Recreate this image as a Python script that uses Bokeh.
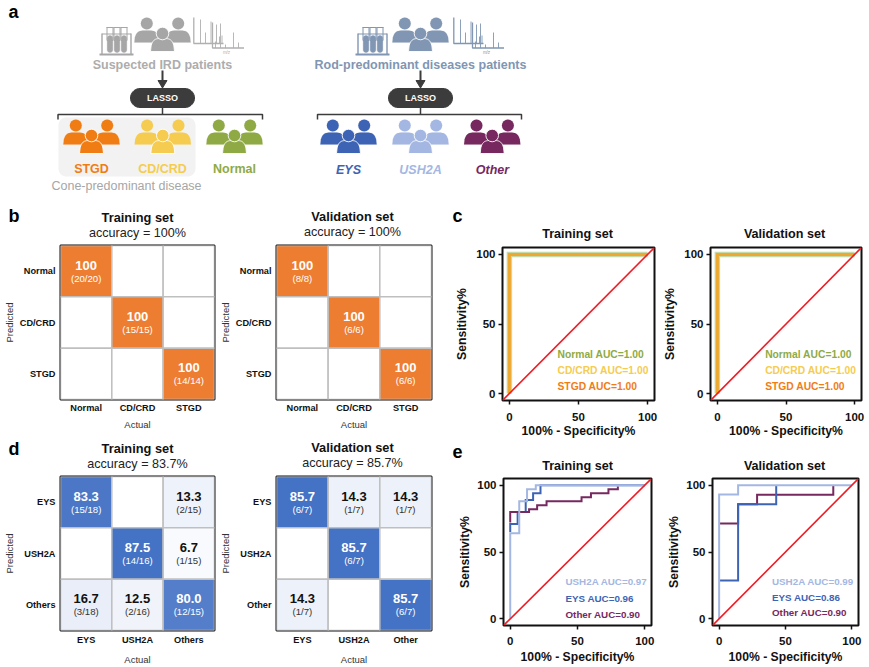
import numpy as np
from bokeh.core.properties import value
from bokeh.embed import file_html
from bokeh.layouts import column, row
from bokeh.models import ColumnDataSource, FactorRange, FixedTicker, Label, Range1d
from bokeh.plotting import figure
from bokeh.resources import INLINE

FONT = "Liberation Sans"

# ---------- data ----------
b_cats = ["Normal", "CD/CRD", "STGD"]
b_train_vals = [[100, 0, 0], [0, 100, 0], [0, 0, 100]]
b_train_frac = [["(20/20)", "", ""], ["", "(15/15)", ""], ["", "", "(14/14)"]]
b_valid_vals = [[100, 0, 0], [0, 100, 0], [0, 0, 100]]
b_valid_frac = [["(8/8)", "", ""], ["", "(6/6)", ""], ["", "", "(6/6)"]]

d_train_cats = ["EYS", "USH2A", "Others"]
d_valid_cats = ["EYS", "USH2A", "Other"]
d_train_vals = [[83.3, 0, 13.3], [0, 87.5, 6.7], [16.7, 12.5, 80.0]]
d_train_frac = [["(15/18)", "", "(2/15)"], ["", "(14/16)", "(1/15)"], ["(3/18)", "(2/16)", "(12/15)"]]
d_valid_vals = [[85.7, 14.3, 14.3], [0, 85.7, 0], [14.3, 0, 85.7]]
d_valid_frac = [["(6/7)", "(1/7)", "(1/7)"], ["", "(6/7)", ""], ["(1/7)", "", "(6/7)"]]

roc_perfect_x = [0, 0, 100]
roc_perfect_y = [0, 100, 100]
diag = [-5, 105]

e_tr_ush_x = [0, 0, 6.7, 6.7, 12.5, 12.5, 19, 19, 100]
e_tr_ush_y = [0, 64, 64, 88, 88, 97, 97, 100, 100]
e_tr_eys_x = [0, 0, 5.5, 5.5, 11.5, 11.5, 17, 17, 22.5, 22.5, 100]
e_tr_eys_y = [65, 71, 71, 80, 80, 89, 89, 94, 94, 100, 100]
e_tr_oth_x = [0, 0, 14, 14, 20, 20, 27, 27, 53, 53, 60, 60, 73, 73, 80, 80]
e_tr_oth_y = [72, 80, 80, 82, 82, 85, 85, 88, 88, 91, 91, 94, 94, 97, 97, 99]

e_va_ush_x = [0, 0, 14.3, 14.3, 100]
e_va_ush_y = [0, 93, 93, 100, 100]
e_va_eys_x = [0, 14.3, 14.3, 43, 43]
e_va_eys_y = [28.6, 28.6, 85.7, 85.7, 100]
e_va_oth_x = [0, 14.3, 14.3, 28.6, 28.6, 86, 86]
e_va_oth_y = [71.4, 71.4, 85.7, 85.7, 92.9, 92.9, 100]

C_ORANGE, C_YELLOW, C_GREEN = "#F07D14", "#F5CC50", "#8FAA45"
C_BLUE, C_LBLUE, C_PURPLE = "#3D64B4", "#A4B7E2", "#76285F"
C_GRAY, C_SLATE, C_DARK = "#A6A6A6", "#8096B3", "#3C3C3C"


# ---------- helpers ----------
def add_label(p, px, py, text, size, color="#111111", style="normal", align="center"):
    p.add_layout(Label(x=px, y=py, text=text, text_font=FONT, text_font_size=f"{size}px",
                       text_color=color, text_font_style=style, text_align=align,
                       text_baseline="middle"))


def canvas(x0, x1, y0, y1):
    """A frame-only figure whose data units are page pixels, for texts and the schematic."""
    p = figure(width=x1 - x0, height=y1 - y0, x_range=Range1d(x0, x1), y_range=Range1d(y1, y0),
               output_backend="svg", toolbar_location=None, x_axis_type=None, y_axis_type=None,
               min_border=0, outline_line_color=None)
    p.grid.visible = False
    return p


def mix(hexcol, t):
    c = np.array([int(hexcol[i:i + 2], 16) for i in (1, 3, 5)])
    t = min(t, 1.0) ** 1.3
    out = 255 + (c - 255) * t
    return "#%02x%02x%02x" % tuple(int(round(v)) for v in out)


def heatmap(cats, vals, fracs, base, vmax, fx0, fx1, fy0, fy1, px0, px1, py0, py1,
            stand_y, tick_stand, stand_x):
    rows = cats[::-1]
    p = figure(width=px1 - px0, height=py1 - py0, x_range=FactorRange(factors=list(cats)),
               y_range=FactorRange(factors=list(rows)), output_backend="svg", toolbar_location=None,
               min_border_left=fx0 - px0, min_border_right=px1 - fx1,
               min_border_top=fy0 - py0, min_border_bottom=py1 - fy1)
    xs, ys, cols, txt, frc, tcol, fcol = [], [], [], [], [], [], []
    for i, rn in enumerate(cats):
        for j, cn in enumerate(cats):
            v = vals[i][j]
            xs.append(cn)
            ys.append(rn)
            cols.append(mix(base, v / vmax) if v else "#ffffff")
            txt.append((f"{v:g}" if v == 100 else f"{v:.1f}") if v else "")
            frc.append(fracs[i][j])
            tcol.append("#ffffff" if v > 50 else "#111111")
            fcol.append("#ffffff" if v > 50 else "#333333")
    src = ColumnDataSource(dict(x=xs, y=ys, c=cols, t=txt, f=frc, tc=tcol, fc=fcol))
    p.rect("x", "y", width=1, height=1, source=src, fill_color="c",
           line_color="#BFBFBF", line_width=1.5)
    p.text("x", "y", text="t", source=src, text_color="tc", text_font=value(FONT),
           text_font_style="bold", text_font_size="13px", text_align="center",
           text_baseline="middle", y_offset=-6)
    p.text("x", "y", text="f", source=src, text_color="fc", text_font=value(FONT),
           text_font_size="9.6px", text_align="center", text_baseline="middle", y_offset=7)
    p.grid.visible = False
    p.outline_line_color = "#111111"
    p.outline_line_alpha = 1
    p.outline_line_width = 2
    for ax in p.axis:
        ax.axis_line_color = None
        ax.major_tick_line_color = None
        ax.major_tick_in = 0
        ax.major_tick_out = 0
        ax.minor_tick_line_color = None
        ax.minor_tick_in = 0
        ax.minor_tick_out = 0
        ax.major_label_text_font = FONT
        ax.major_label_text_font_style = "bold"
        ax.major_label_text_font_size = "9.2px"
        ax.major_label_text_color = "#111111"
        ax.axis_label_text_font = FONT
        ax.axis_label_text_font_style = "normal"
        ax.axis_label_text_font_size = "9.5px"
        ax.axis_label_text_color = "#333333"
    p.xaxis.major_label_standoff = tick_stand
    p.yaxis.major_label_standoff = 5
    p.xaxis.axis_label = "Actual"
    p.xaxis.axis_label_standoff = stand_x
    p.yaxis.axis_label = "Predicted"
    p.yaxis.axis_label_standoff = stand_y
    return p


def roc(series, labels, fx0, fx1, fy0, fy1, px0, px1, py0, py1, lab_x, lab_ys,
        lab_size, stand_y, tick_stand, stand_x):
    p = figure(width=px1 - px0, height=py1 - py0, x_range=Range1d(-5, 105), y_range=Range1d(-5, 105),
               output_backend="svg", toolbar_location=None,
               min_border_left=fx0 - px0, min_border_right=px1 - fx1,
               min_border_top=fy0 - py0, min_border_bottom=py1 - fy1)
    for xs, ys, col, lw, alpha in series:
        p.line(xs, ys, line_color=col, line_width=lw, line_alpha=alpha, line_join="miter")
    p.line(diag, diag, line_color="#EE1C25", line_width=1.6)
    p.grid.visible = False
    p.outline_line_color = "#111111"
    p.outline_line_alpha = 1
    p.outline_line_width = 2
    for ax in p.axis:
        ax.ticker = FixedTicker(ticks=[0, 50, 100])
        ax.axis_line_color = None
        ax.major_tick_line_color = "#111111"
        ax.major_tick_line_width = 1.5
        ax.major_tick_in = 0
        ax.major_tick_out = 4
        ax.minor_tick_line_color = None
        ax.minor_tick_in = 0
        ax.minor_tick_out = 0
        ax.major_label_text_font = FONT
        ax.major_label_text_font_style = "bold"
        ax.major_label_text_font_size = "11.5px"
        ax.major_label_text_color = "#111111"
        ax.major_label_standoff = 3
        ax.axis_label_text_font = FONT
        ax.axis_label_text_font_style = "bold"
        ax.axis_label_text_font_size = "12.2px"
        ax.axis_label_text_color = "#111111"
    p.xaxis.major_label_standoff = tick_stand
    p.xaxis.axis_label = "100% - Specificity%"
    p.xaxis.axis_label_standoff = stand_x
    p.yaxis.axis_label = "Sensitivity%"
    p.yaxis.axis_label_standoff = stand_y
    y_span = fy1 - fy0
    x_span = fx1 - fx0
    for (text, col), y in zip(labels, lab_ys):
        # lab_x, lab_ys are page pixels; convert them through the 110-unit axis range
        add_label(p, -5 + (lab_x - fx0) / x_span * 110, 105 - (y - fy0) / y_span * 110,
                  text, lab_size, color=col, style="bold", align="left")
    return p


# ---------- panel a and the titles of row 1 (page-pixel canvas) ----------
pa = canvas(0, 869, 0, 243)


def round_rect(x0, y0, x1, y1, r):
    t = np.linspace(0, np.pi / 2, 10)
    xs = np.r_[x1 - r + r * np.sin(t), x1 - r + r * np.cos(t), x0 + r - r * np.sin(t), x0 + r - r * np.cos(t)]
    ys = np.r_[y0 + r - r * np.cos(t), y1 - r + r * np.sin(t), y1 - r + r * np.cos(t), y0 + r - r * np.sin(t)]
    return xs, ys


def person(cx, cy, bw, bottom, height, radius, col, halo):
    t = np.linspace(-1, 1, 41)
    xs = cx + t * bw / 2
    ys = bottom - height * (1 - np.abs(t) ** 4.0) ** 0.5
    edge = "#ffffff" if halo else col
    width = 0.9 if halo else 0.1
    pa.patch(np.r_[xs, xs[-1], xs[0]], np.r_[ys, bottom, bottom], fill_color=col, line_color=edge, line_width=width)
    pa.circle([cx], [cy], radius=radius, fill_color=col, line_color=edge, line_width=width)


def people(cx, cy, col):
    person(cx - 15.7, cy - 10, 25, cy + 9, 12, 6, col, False)
    person(cx + 15.7, cy - 10, 25, cy + 9, 12, 6, col, False)
    person(cx, cy, 24, cy + 18, 13, 6.3, col, True)


def rack(dx, col):
    for tx in (109.5, 116.5, 123.5):
        tx += dx
        pa.line([tx - 3, tx - 3, tx + 3, tx + 3], [27, 40, 40, 27], line_color=col, line_width=1)
        pa.line([tx - 3.6, tx + 3.6], [27, 27], line_color=col, line_width=1.2)
        xs, ys = round_rect(tx - 2.8, 35, tx + 2.8, 52, 2.7)
        pa.patch(xs, ys, fill_color=col, line_color=col, line_width=0.3)
    pa.line([99 + dx, 133 + dx], [54, 54], line_color=col, line_width=1.8)
    pa.line([101.5 + dx, 101.5 + dx], [33, 54], line_color=col, line_width=1.4)
    pa.line([130.5 + dx, 130.5 + dx], [33, 54], line_color=col, line_width=1.4)
    pa.line([101.5 + dx, 130.5 + dx], [33.5, 33.5], line_color=col, line_width=1.2)


STEMS_1 = [(200, 19), (205, 32), (210.5, 21), (216, 24), (219, 36), (221.5, 35)]
STEMS_2 = [(215, 41), (220, 23), (225, 44), (233, 32), (238, 42)]


def spectrum(dx, col):
    pa.line([193.3 + dx, 193.3 + dx, 223 + dx], [17, 43, 43], line_color=col, line_width=1.3)
    pa.multi_line([[x + dx, x + dx] for x, _ in STEMS_1], [[t, 43] for _, t in STEMS_1], line_color=col, line_width=0.9)
    pa.line([212 + dx, 212 + dx, 243.5 + dx], [22, 47.5, 47.5], line_color=col, line_width=1.3)
    pa.multi_line([[x + dx, x + dx] for x, _ in STEMS_2], [[t, 47.5] for _, t in STEMS_2], line_color=col, line_width=0.9)
    pa.text([226 + dx], [51.5], text=["m/z"], text_font=value(FONT), text_font_size="4.5px",
            text_color=col, text_align="center", text_baseline="middle")


def tree(cx, x0, x1):
    pa.line([cx, cx], [70, 83], line_color=C_DARK, line_width=2)
    pa.patch([cx - 4.5, cx + 4.5, cx], [80, 80, 87.5], fill_color=C_DARK, line_color=C_DARK)
    xs, ys = round_rect(cx - 32, 88, cx + 32, 107, 9.5)
    pa.patch(xs, ys, fill_color=C_DARK, line_color=C_DARK)
    pa.text([cx], [97.5], text=["LASSO"], text_font=value(FONT), text_font_style="bold", text_font_size="9px",
            text_color="#ffffff", text_align="center", text_baseline="middle")
    pa.line([cx, cx], [107, 114], line_color=C_DARK, line_width=1.5)
    pa.line([x0, x0, x1, x1], [119, 114, 114, 119], line_color=C_DARK, line_width=1.5)


xs, ys = round_rect(58, 117, 195, 176, 8)
pa.patch(xs, ys, fill_color="#F2F2F2", line_color=None)

rack(0, C_GRAY)
people(162, 33, C_GRAY)
spectrum(0, "#B0B0B0")
rack(256, C_SLATE)
people(420, 33, C_SLATE)
spectrum(260, C_SLATE)
tree(162, 57.5, 262)
tree(420, 317, 521)
for cx, col in [(91, C_ORANGE), (162.3, C_YELLOW), (234, C_GREEN), (348, C_BLUE), (420, C_LBLUE), (491.7, C_PURPLE)]:
    people(cx, 135, col)

add_label(pa, 8, 11, "a", 18, color="#000000", style="bold", align="left")
add_label(pa, 162, 64, "Suspected IRD patients", 12.5, color="#ADADAD", style="bold")
add_label(pa, 420, 64, "Rod-predominant diseases patients", 12.5, color=C_SLATE, style="bold")
add_label(pa, 91, 168, "STGD", 12.5, color=C_ORANGE, style="bold")
add_label(pa, 162, 168, "CD/CRD", 12.5, color=C_YELLOW, style="bold")
add_label(pa, 234, 168, "Normal", 12.5, color=C_GREEN, style="bold")
add_label(pa, 126, 185, "Cone-predominant disease", 12.5, color="#A6A6A6")
add_label(pa, 348, 169, "EYS", 12.5, color=C_BLUE, style="bold italic")
add_label(pa, 420, 169, "USH2A", 12.5, color=C_LBLUE, style="bold italic")
add_label(pa, 492, 169, "Other", 12.5, color=C_PURPLE, style="bold italic")

add_label(pa, 8, 215, "b", 18, color="#000000", style="bold", align="left")
add_label(pa, 137, 216.5, "Training set", 12.8, style="bold")
add_label(pa, 137, 232, "accuracy = 100%", 12.6, color="#222222")
add_label(pa, 352, 215.5, "Validation set", 12.8, style="bold")
add_label(pa, 352, 231, "accuracy = 100%", 12.6, color="#222222")
add_label(pa, 452, 215, "c", 18, color="#000000", style="bold", align="left")
add_label(pa, 577, 233, "Training set", 12.6, style="bold")
add_label(pa, 784, 233, "Validation set", 12.6, style="bold")

# ---------- title strips between the rows ----------
ps_left = canvas(0, 440, 437, 474)
add_label(ps_left, 8, 448, "d", 18, color="#000000", style="bold", align="left")
add_label(ps_left, 137, 448, "Training set", 12.8, style="bold")
add_label(ps_left, 137, 463, "accuracy = 83.7%", 12.6, color="#222222")
add_label(ps_left, 352, 447, "Validation set", 12.8, style="bold")
add_label(ps_left, 352, 462, "accuracy = 85.7%", 12.6, color="#222222")

ps_right = canvas(440, 869, 440, 474)
add_label(ps_right, 452, 451, "e", 18, color="#000000", style="bold", align="left")
add_label(ps_right, 577, 465, "Training set", 12.6, style="bold")
add_label(ps_right, 784, 465, "Validation set", 12.6, style="bold")

# ---------- plots ----------
HM_ORANGE = "#ED7D31"
HM_BLUE = "#4472C4"

pb1 = heatmap(b_cats, b_train_vals, b_train_frac, HM_ORANGE, 100, 60, 214, 245, 399, 0, 216, 243, 437, 2, 3, 3)
pb2 = heatmap(b_cats, b_valid_vals, b_valid_frac, HM_ORANGE, 100, 276, 431, 245, 399, 216, 440, 243, 437, 2, 3, 3)

perfect = [(roc_perfect_x, roc_perfect_y, "#BCD29A", 5.5, 0.85),
           (roc_perfect_x, roc_perfect_y, C_YELLOW, 3, 1.0),
           (roc_perfect_x, roc_perfect_y, "#E98F1C", 3, 0.6)]
c_labels = [("Normal AUC=1.00", C_GREEN), ("CD/CRD AUC=1.00", C_YELLOW), ("STGD AUC=1.00", C_ORANGE)]
pc1 = roc(perfect, c_labels, 502, 654, 247, 401, 440, 660, 243, 440, 557, (355, 370.5, 387), 10.3, 4, 8, 0)
pc2 = roc(perfect, c_labels, 709, 861, 247, 401, 660, 869, 243, 440, 764, (355, 370.5, 387), 10.3, 4, 8, 0)

pd1 = heatmap(d_train_cats, d_train_vals, d_train_frac, HM_BLUE, 85.7, 60, 214, 476, 630, 0, 216, 474, 667, 6, 4, 6)
pd2 = heatmap(d_valid_cats, d_valid_vals, d_valid_frac, HM_BLUE, 85.7, 276, 431, 476, 630, 216, 440, 474, 667, 6, 4, 6)

e_labels_tr = [("USH2A AUC=0.97", C_LBLUE), ("EYS AUC=0.96", C_BLUE), ("Other AUC=0.90", C_PURPLE)]
e_labels_va = [("USH2A AUC=0.99", C_LBLUE), ("EYS AUC=0.86", C_BLUE), ("Other AUC=0.90", C_PURPLE)]
e_tr = [(e_tr_eys_x, e_tr_eys_y, C_BLUE, 2, 1), (e_tr_oth_x, e_tr_oth_y, C_PURPLE, 2, 1),
        (e_tr_ush_x, e_tr_ush_y, C_LBLUE, 2, 1)]
e_va = [(e_va_oth_x, e_va_oth_y, C_PURPLE, 2, 1), (e_va_eys_x, e_va_eys_y, C_BLUE, 2, 1),
        (e_va_ush_x, e_va_ush_y, C_LBLUE, 2, 1)]
pe1 = roc(e_tr, e_labels_tr, 503, 651, 478, 625, 440, 660, 474, 667, 565, (581, 598, 614), 9.8, 2, 7, 2)
pe2 = roc(e_va, e_labels_va, 712, 858, 478, 625, 660, 869, 474, 667, 771.5, (581, 597, 612), 9.8, 2, 7, 2)

left = column(row(pb1, pb2, spacing=0), ps_left, row(pd1, pd2, spacing=0), spacing=0)
right = column(row(pc1, pc2, spacing=0), ps_right, row(pe1, pe2, spacing=0), spacing=0)
layout = column(pa, row(left, right, spacing=0), spacing=0)
open("out.html", "w").write(file_html(layout, INLINE))
